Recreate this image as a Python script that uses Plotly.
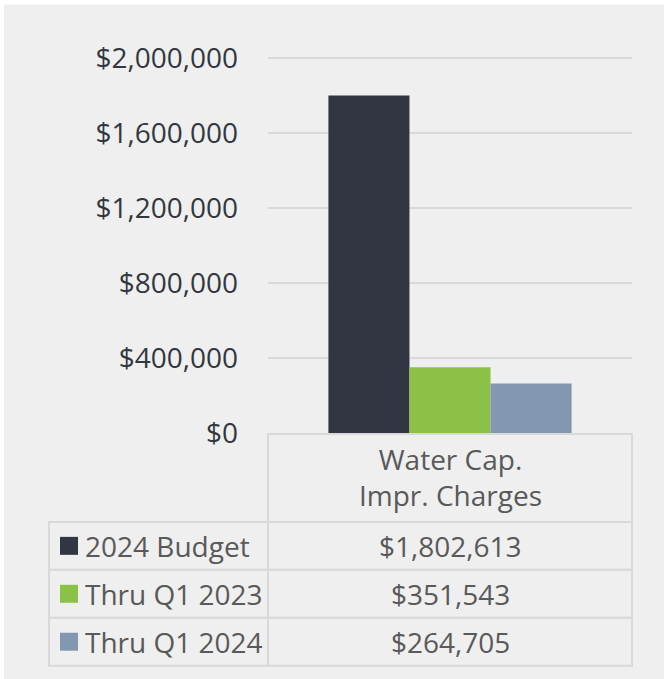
import plotly.graph_objects as go

# ---- data ----
categories = ["Water Cap.<br>Impr. Charges"]
series_names = ["2024 Budget", "Thru Q1 2023", "Thru Q1 2024"]
budget_2024 = [1802613]
thru_q1_2023 = [351543]
thru_q1_2024 = [264705]
series_values = [budget_2024, thru_q1_2023, thru_q1_2024]
colors = ["#323642", "#8bc146", "#8497b0"]
tick_vals = [0, 400000, 800000, 1200000, 1600000, 2000000]
tick_text = ["$0", "$400,000", "$800,000", "$1,200,000", "$1,600,000", "$2,000,000"]
y_max = 2040000

W, H = 664, 679
PL, PR = 268, 632      # plot area x (px)
PB = 433               # y of zero (px)
PT = 58 - 375 * (y_max - 2000000) / 2000000   # 2,000,000 lands at y=58
FONT = "Open Sans"
FS = 28
TXT = "#595959"
BORDER = "#d9d9d9"


def px(x):
    return (x - PL) / (PR - PL)


def py(y):
    return (PB - y) / (PB - PT)


fig = go.Figure()
for name, vals, col in zip(series_names, series_values, colors):
    fig.add_trace(go.Bar(x=categories, y=vals, name=name, marker=dict(color=col, line=dict(width=0)),
                         hoverinfo="y+name"))

shapes = []
# white top / left strips
shapes.append(dict(type="rect", xref="paper", yref="paper", x0=px(-5), x1=px(W + 5), y0=py(-5), y1=py(4),
                   fillcolor="white", line=dict(width=0), layer="below"))
shapes.append(dict(type="rect", xref="paper", yref="paper", x0=px(-5), x1=px(4), y0=py(-5), y1=py(H + 5),
                   fillcolor="white", line=dict(width=0), layer="below"))

# table geometry
col_x = [49, 268, 632]
header_top = 434
row_y = [522, 570, 618, 666]
lw = 2
shapes.append(dict(type="rect", xref="paper", yref="paper", x0=px(268), x1=px(632), y0=py(header_top), y1=py(522),
                   line=dict(color=BORDER, width=lw), fillcolor="rgba(0,0,0,0)"))
for i in range(3):
    for j in range(2):
        shapes.append(dict(type="rect", xref="paper", yref="paper", x0=px(col_x[j]), x1=px(col_x[j + 1]),
                           y0=py(row_y[i]), y1=py(row_y[i + 1]),
                           line=dict(color=BORDER, width=lw), fillcolor="rgba(0,0,0,0)"))

annotations = []
annotations.append(dict(xref="paper", yref="paper", x=px(450), y=py(477), text=categories[0], showarrow=False,
                        font=dict(family=FONT, size=FS, color=TXT), align="center", xanchor="center",
                        yanchor="middle"))
for i, (name, vals, col) in enumerate(zip(series_names, series_values, colors)):
    cy = (row_y[i] + row_y[i + 1]) / 2
    shapes.append(dict(type="rect", xref="paper", yref="paper", x0=px(60), x1=px(78), y0=py(cy - 9), y1=py(cy + 9),
                       fillcolor=col, line=dict(width=0)))
    annotations.append(dict(xref="paper", yref="paper", x=px(83), y=py(cy), text=name, showarrow=False,
                            font=dict(family=FONT, size=FS, color=TXT), xanchor="left", yanchor="middle"))
    annotations.append(dict(xref="paper", yref="paper", x=px(450), y=py(cy), text=f"${vals[0]:,.0f}",
                            showarrow=False, font=dict(family=FONT, size=FS, color=TXT), xanchor="center",
                            yanchor="middle"))

fig.update_layout(
    width=W, height=H,
    margin=dict(l=PL, r=W - PR, t=PT, b=H - PB, pad=0),
    paper_bgcolor="#efefef", plot_bgcolor="rgba(0,0,0,0)",
    barmode="group", bargap=0.332, bargroupgap=0,
    showlegend=False,
    shapes=shapes, annotations=annotations,
    font=dict(family=FONT, size=FS, color="#333740"),
)
fig.update_xaxes(showticklabels=False, showgrid=False, zeroline=False, showline=False)
fig.update_yaxes(range=[0, y_max], tickvals=tick_vals, ticktext=tick_text, showgrid=True, gridcolor=BORDER,
                 gridwidth=1.5, zeroline=False, showline=False, ticks="", ticklabelstandoff=29,
                 tickfont=dict(family=FONT, size=FS, color="#333740"))

fig.write_html("out.html", config={"displayModeBar": False},
               post_script="document.body.style.margin='0px';document.body.style.overflow='hidden';")
